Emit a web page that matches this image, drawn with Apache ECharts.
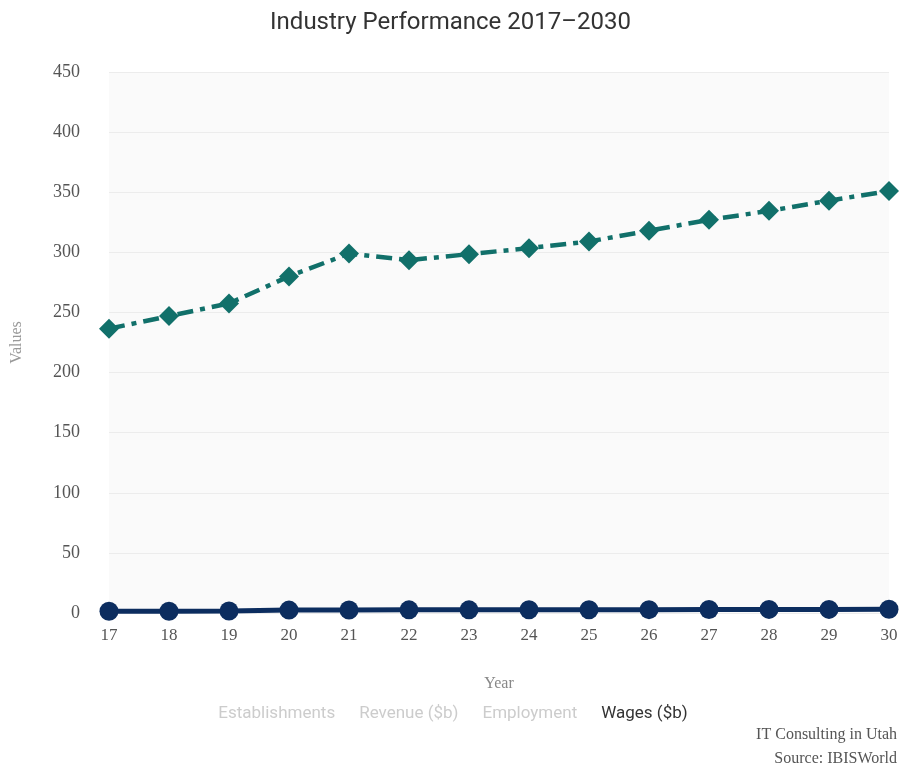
<!DOCTYPE html>
<html>
<head>
<meta charset="utf-8">
<script src="https://cdn.jsdelivr.net/npm/echarts@6/dist/echarts.min.js"></script>
<style>
  html, body { margin: 0; padding: 0; background: #fff; }
  #chart { width: 901px; height: 769px; }
</style>
</head>
<body>
<div id="chart"></div>
<script>
var years = ["17", "18", "19", "20", "21", "22", "23", "24", "25", "26", "27", "28", "29", "30"];
var legendNames = ["Establishments", "Revenue ($b)", "Employment", "Wages ($b)"];
var performance = [236.5, 247, 257.5, 280, 299, 293.5, 298.5, 303.5, 309, 318, 327, 334.5, 343, 351];
var wages = [1.5, 1.5, 1.7, 2.4, 2.5, 2.6, 2.6, 2.7, 2.7, 2.8, 2.9, 3.0, 3.0, 3.1];
var yTicks = [0, 450, 50];

var serif = "'Liberation Serif', 'DejaVu Serif', serif";

var chart = echarts.init(document.getElementById("chart"));

var option = {
  animation: false,
  title: {
    text: "Industry Performance 2017\u20132030",
    left: "center",
    top: 6,
    textStyle: { fontFamily: "Roboto", fontSize: 24, fontWeight: "normal", color: "#333" }
  },
  legend: {
    data: legendNames,
    bottom: 42,
    left: "center",
    icon: "none",
    itemWidth: 0,
    itemGap: 19,
    textStyle: { fontFamily: "Roboto", fontSize: 17, color: "#333" },
    inactiveColor: "#ccc",
    selected: {
      "Establishments": false,
      "Revenue ($b)": false,
      "Employment": false,
      "Wages ($b)": true
    }
  },
  grid: {
    left: 109,
    right: 12,
    top: 72,
    bottom: 156,
    show: true,
    backgroundColor: "#fafafa",
    borderWidth: 0
  },
  xAxis: {
    type: "category",
    data: years,
    boundaryGap: false,
    name: "Year",
    nameLocation: "middle",
    nameGap: 63,
    nameTextStyle: { fontFamily: serif, fontSize: 16, color: "#888" },
    axisLine: { show: false },
    axisTick: { show: true, length: 5, lineStyle: { color: "#ddd" } },
    axisLabel: { fontFamily: serif, fontSize: 17, color: "#555", margin: 14 }
  },
  yAxis: {
    type: "value",
    min: yTicks[0],
    max: yTicks[1],
    interval: yTicks[2],
    name: "Values",
    nameLocation: "middle",
    nameGap: 84,
    nameRotate: 90,
    nameTextStyle: { fontFamily: serif, fontSize: 16, color: "#999" },
    axisLine: { show: false },
    axisTick: { show: false },
    axisLabel: { fontFamily: serif, fontSize: 18, color: "#555", margin: 29 },
    splitLine: { lineStyle: { color: "#ececec", width: 1 } }
  },
  graphic: [
    {
      type: "text",
      right: 4,
      top: 727,
      style: { text: "IT Consulting in Utah", font: "16px " + serif, fill: "#555", textAlign: "right" }
    },
    {
      type: "text",
      right: 4,
      top: 751,
      style: { text: "Source: IBISWorld", font: "16px " + serif, fill: "#555", textAlign: "right" }
    }
  ],
  series: [
    { name: "Establishments", type: "line", data: [] },
    { name: "Revenue ($b)", type: "line", data: [] },
    { name: "Employment", type: "line", data: [] },
    {
      name: "Performance",
      type: "line",
      data: performance,
      symbol: "diamond",
      symbolSize: 20,
      itemStyle: { color: "#11706a" },
      lineStyle: { color: "#11706a", width: 4.5, type: [16, 7, 5, 7] },
      z: 3
    },
    {
      name: "Wages ($b)",
      type: "line",
      data: wages,
      symbol: "circle",
      symbolSize: 19,
      itemStyle: { color: "#0c2d5f" },
      lineStyle: { color: "#0c2d5f", width: 5 },
      z: 4
    }
  ]
};

chart.setOption(option);
</script>
</body>
</html>
